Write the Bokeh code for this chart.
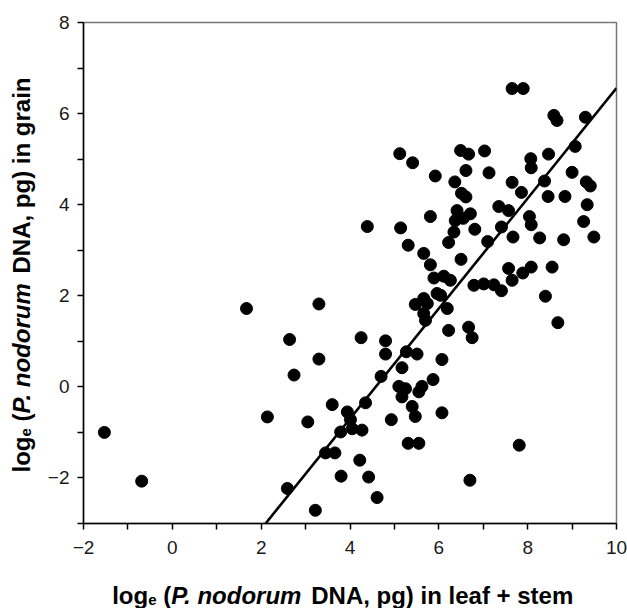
import math
from bokeh.plotting import figure
from bokeh.models import FixedTicker, Label, Range1d
from bokeh.layouts import row, column
from bokeh.embed import file_html
from bokeh.resources import INLINE

# ---- data ----
leaf_stem = [
    -1.53, -0.69, 1.67, 2.14, 2.64, 2.74, 3.05, 2.59, 3.22, 3.30, 3.30,
    3.60, 3.45, 3.66, 3.80, 4.22, 4.42, 4.61, 3.79, 3.94, 4.01, 4.05, 4.27,
    4.35, 4.25, 4.80, 4.80, 4.70, 4.93, 5.27, 5.51, 5.17, 5.10, 5.25, 5.17,
    5.62, 5.55, 5.87, 5.40, 5.47, 6.07, 6.07, 5.31, 5.55, 6.70, 7.81,
    5.47, 5.66, 5.74, 5.96, 6.04, 6.19, 5.66, 5.70, 6.22, 6.67, 6.75, 8.68,
    8.40, 5.89, 6.11, 6.26, 5.66, 5.81, 6.50, 6.79, 7.01, 7.24, 7.41, 7.57,
    7.65, 7.89, 8.08, 8.55,
    4.39, 5.14, 5.31, 5.81, 6.22, 6.34, 6.37, 6.41, 6.71, 6.81, 6.55, 7.10,
    7.35, 7.57, 7.41, 7.67, 8.04, 8.08, 8.27, 8.81, 9.49, 9.26, 9.34, 8.46,
    8.84, 7.65, 7.86, 8.38, 9.32, 9.41, 9.00, 6.36, 6.51, 6.61, 6.61, 7.13,
    5.92, 5.12, 5.41, 6.49, 6.67, 7.03, 8.07, 8.08, 8.47, 9.07, 8.59, 8.66,
    9.30, 7.65, 7.90,
]
grain = [
    -1.00, -2.07, 1.72, -0.66, 1.04, 0.26, -0.77, -2.23, -2.71, 1.82, 0.61,
    -0.39, -1.45, -1.45, -1.96, -1.61, -1.98, -2.43, -0.99, -0.55, -0.72, -0.92, -0.95,
    -0.35, 1.08, 1.01, 0.72, 0.23, -0.72, 0.77, 0.72, 0.42, 0.01, -0.04, -0.22,
    0.01, -0.11, 0.16, -0.43, -0.65, -0.57, 0.60, -1.24, -1.24, -2.05, -1.28,
    1.81, 1.94, 1.83, 2.05, 2.01, 1.72, 1.61, 1.46, 1.24, 1.31, 1.08, 1.41,
    1.99, 2.39, 2.43, 2.34, 2.93, 2.68, 2.80, 2.23, 2.26, 2.24, 2.11, 2.60,
    2.34, 2.50, 2.63, 2.63,
    3.52, 3.49, 3.11, 3.74, 3.17, 3.40, 3.65, 3.87, 3.80, 3.46, 3.70, 3.19,
    3.96, 3.87, 3.51, 3.29, 3.74, 3.56, 3.27, 3.23, 3.29, 3.63, 4.00, 4.18,
    4.18, 4.49, 4.27, 4.52, 4.50, 4.41, 4.71, 4.50, 4.25, 4.17, 4.75, 4.70,
    4.63, 5.12, 4.92, 5.19, 5.11, 5.18, 5.01, 4.81, 5.11, 5.28, 5.96, 5.85,
    5.92, 6.55, 6.55,
]

fit_slope = 1.21
fit_intercept = -5.54
fit_x = [2.1, 10.0]
fit_y = [fit_slope * v + fit_intercept for v in fit_x]

x_ticks = [-2, 0, 2, 4, 6, 8, 10]
x_minor = [-1, 1, 3, 5, 7, 9]
y_ticks = [-2, 0, 2, 4, 6, 8]
y_minor = [-3, -1, 1, 3, 5, 7]

x_label_parts = ["log", "e", " (", "P. nodorum", " DNA, pg) in leaf + stem"]
y_label_parts = ["log", "e", " (", "P. nodorum", " DNA, pg) in grain"]
part_styles = ["bold", "bold", "bold", "bold italic", "bold"]
part_sub = [False, True, False, False, False]

# ---- layout ----
FW, FH = 533, 501
LEFT_W = 40            # strip holding the rotated y title
MAIN_LEFT = 43
MAIN_RIGHT = 11
MAIN_TOP = 22
MAIN_BOTTOM = 40
MAIN_H = MAIN_TOP + FH + MAIN_BOTTOM
TOTAL_W = LEFT_W + MAIN_LEFT + FW + MAIN_RIGHT
BOTTOM_H = 608 - MAIN_H  # strip holding the x title

p = figure(frame_width=FW, frame_height=FH,
           x_range=Range1d(-2, 10), y_range=Range1d(-3, 8),
           output_backend="svg", toolbar_location=None,
           min_border_left=MAIN_LEFT, min_border_right=MAIN_RIGHT,
           min_border_top=MAIN_TOP, min_border_bottom=MAIN_BOTTOM)
p.title.visible = False
p.background_fill_color = "white"
p.border_fill_color = "white"
p.xgrid.visible = False
p.ygrid.visible = False
p.outline_line_color = "#777777"
p.outline_line_width = 1.5

p.xaxis.ticker = FixedTicker(ticks=x_ticks, minor_ticks=x_minor)
p.yaxis.ticker = FixedTicker(ticks=y_ticks, minor_ticks=y_minor)
MINUS = "\u2212"
p.xaxis.major_label_overrides = {t: (MINUS + str(-t) if t < 0 else str(t)) for t in x_ticks}
p.yaxis.major_label_overrides = {t: (MINUS + str(-t) if t < 0 else str(t)) for t in y_ticks}

for ax in (p.xaxis[0], p.yaxis[0]):
    ax.axis_line_color = "black"
    ax.axis_line_width = 1.5
    ax.major_tick_line_color = "black"
    ax.minor_tick_line_color = "black"
    ax.major_tick_line_width = 1.5
    ax.minor_tick_line_width = 1.5
    ax.major_tick_in = 0
    ax.major_tick_out = 6
    ax.minor_tick_in = 0
    ax.minor_tick_out = 6
    ax.major_label_text_font = "Liberation Sans"
    ax.major_label_text_font_size = "19px"
    ax.major_label_text_color = "#1a1a1a"
p.xaxis.major_label_standoff = 11
p.yaxis.major_label_standoff = 8

p.line(fit_x, fit_y, line_color="black", line_width=2.6)
p.scatter(leaf_stem, grain, size=12, fill_color="black", line_color="black")

# ---- axis titles built from pieces (mixed bold / bold italic / subscript) ----
W = {' ': 278, '(': 333, ')': 333, ',': 278, '.': 278, '+': 584, 'a': 556,
     'd': 611, 'e': 556, 'f': 333, 'g': 611, 'i': 278, 'l': 278, 'm': 889,
     'n': 611, 'o': 611, 'p': 611, 'r': 389, 's': 556, 't': 333, 'u': 611,
     'D': 722, 'N': 722, 'A': 722, 'P': 667}

def text_w(s, size):
    return sum(W.get(c, 556) for c in s) * size / 1000.0

MAIN, SUB, SUB_DROP = 24, 15, 4
FONT = "Liberation Sans"


def strip(w, h, fh, top=0, bottom=0):
    """A blank figure whose frame (fh px tall) maps 1 data unit to 1 pixel."""
    f = figure(width=w, height=h, x_range=Range1d(0, w), y_range=Range1d(0, fh),
               x_axis_type=None, y_axis_type=None, output_backend="svg",
               toolbar_location=None, min_border_left=0, min_border_right=0,
               min_border_top=top, min_border_bottom=bottom)
    f.title.visible = False
    f.outline_line_color = None
    f.background_fill_color = "white"
    f.border_fill_color = "white"
    return f


def pieces(parts):
    for txt, sty, sub in zip(parts, part_styles, part_sub):
        size = SUB if sub else MAIN
        lead = len(txt) - len(txt.lstrip(" "))
        yield txt.lstrip(" "), sty, sub, size, text_w(" " * lead, size)

# y title strip (left); its frame lines up with the main frame (rows align borders)
ylab = strip(LEFT_W, MAIN_H, FH, top=MAIN_TOP, bottom=MAIN_BOTTOM)
cy = MAIN_TOP + FH - 472          # page y 472 -> data y in the strip frame
for txt, sty, sub, size, lead in pieces(y_label_parts):
    cy += lead
    drop = SUB_DROP if sub else 0
    ylab.add_layout(Label(x=21 + drop, y=cy, text=txt, text_font=FONT,
                          text_font_size=f"{size}px", text_font_style=sty,
                          text_color="black", angle=math.pi / 2,
                          text_align="left", text_baseline="alphabetic"))
    cy += text_w(txt, size)

# x title strip (bottom)
xlab = strip(TOTAL_W, BOTTOM_H, BOTTOM_H)
cx = 111.7
for txt, sty, sub, size, lead in pieces(x_label_parts):
    cx += lead
    drop = SUB_DROP if sub else 0
    xlab.add_layout(Label(x=cx, y=13 - drop, text=txt, text_font=FONT,
                          text_font_size=f"{size}px", text_font_style=sty,
                          text_color="black",
                          text_align="left", text_baseline="alphabetic"))
    cx += text_w(txt, size)

layout = column(row(ylab, p, spacing=0), xlab, spacing=0)
open("out.html", "w").write(file_html(layout, INLINE))
